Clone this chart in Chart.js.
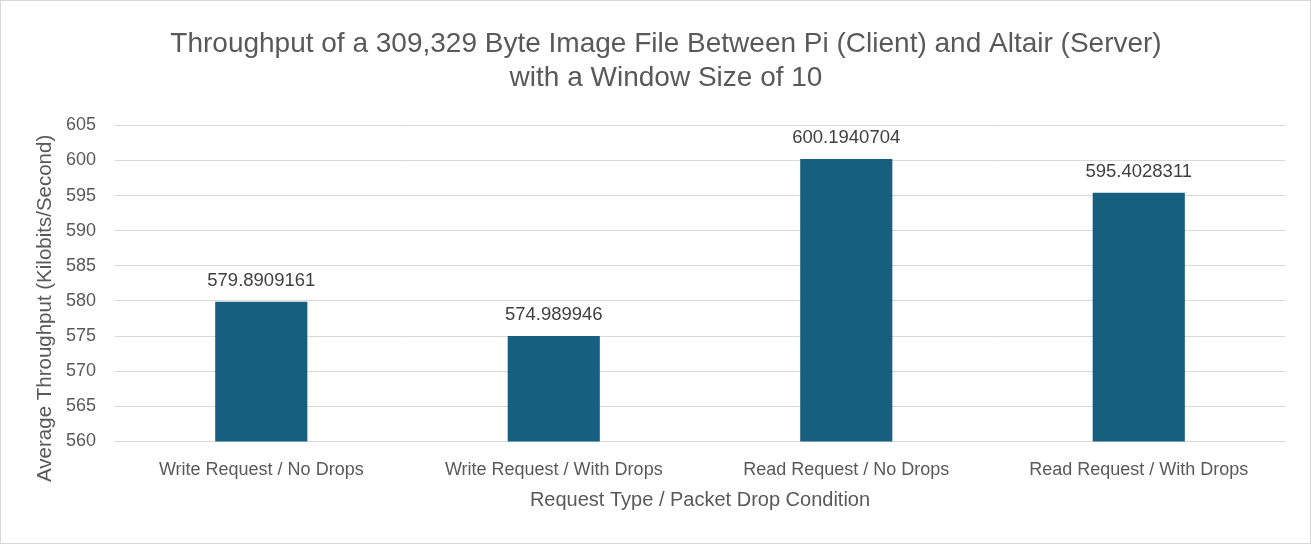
<!DOCTYPE html>
<html>
<head>
<meta charset="utf-8">
<script src="https://cdn.jsdelivr.net/npm/chart.js@4/dist/chart.umd.min.js"></script>
<style>
html,body{margin:0;padding:0;background:#fff;}
#wrap{position:absolute;left:0;top:0;width:1309px;height:542px;border:1px solid #d9d9d9;background:#fff;}
canvas{display:block;}
</style>
</head>
<body>
<div id="wrap"><canvas id="c" width="1309" height="542"></canvas></div>
<script>
const categories = ["Write Request / No Drops", "Write Request / With Drops", "Read Request / No Drops", "Read Request / With Drops"];
const throughput = [579.8909161, 574.989946, 600.1940704, 595.4028311];
const valueLabels = ["579.8909161", "574.989946", "600.1940704", "595.4028311"];
const titleLines = ["Throughput of a 309,329 Byte Image File Between Pi (Client) and Altair (Server)", "with a Window Size of 10"];
const yTitle = "Average Throughput (Kilobits/Second)";
const xTitle = "Request Type / Packet Drop Condition";

const FONT = "'Liberation Sans', Arial, sans-serif";

const labelPlugin = {
  id: 'valueLabels',
  afterDatasetsDraw(chart) {
    const ctx = chart.ctx;
    const meta = chart.getDatasetMeta(0);
    ctx.save();
    ctx.font = "18.5px " + FONT;
    ctx.fillStyle = "#404040";
    ctx.textAlign = "center";
    ctx.textBaseline = "middle";
    meta.data.forEach((el, i) => {
      ctx.fillText(valueLabels[i], el.x, el.y - 21);
    });
    ctx.restore();
  }
};

const yTitlePlugin = {
  id: 'yTitleCustom',
  afterDraw(chart) {
    const ctx = chart.ctx;
    const area = chart.chartArea;
    ctx.save();
    ctx.font = "20.5px " + FONT;
    ctx.fillStyle = "#595959";
    ctx.textAlign = "center";
    ctx.textBaseline = "middle";
    ctx.translate(44, (area.top + area.bottom) / 2 + 25);
    ctx.rotate(-Math.PI / 2);
    ctx.fillText(yTitle, 0, 0);
    ctx.restore();
  }
};

new Chart(document.getElementById('c'), {
  type: 'bar',
  data: {
    labels: categories,
    datasets: [{
      data: throughput,
      backgroundColor: '#175f7f',
      borderWidth: 0,
      barPercentage: 0.315,
      categoryPercentage: 1.0
    }]
  },
  options: {
    responsive: false,
    animation: false,
    layout: { padding: { left: 46, right: 25, top: 9, bottom: 31 } },
    plugins: {
      legend: { display: false },
      tooltip: { enabled: false },
      title: {
        display: true,
        text: titleLines,
        color: '#595959',
        font: { family: FONT, size: 28, weight: 'normal', lineHeight: 1.22 },
        padding: { top: 17, bottom: 30 }
      }
    },
    scales: {
      x: {
        grid: { display: false },
        border: { display: false },
        ticks: { color: '#595959', font: { family: FONT, size: 18 }, padding: 10, maxRotation: 0 },
        title: { display: true, text: xTitle, color: '#595959', font: { family: FONT, size: 20 }, padding: { top: -3, bottom: 0 } }
      },
      y: {
        min: 560, max: 605,
        grid: { color: '#d9d9d9', lineWidth: 1, drawTicks: false },
        border: { display: false },
        ticks: { stepSize: 5, color: '#595959', font: { family: FONT, size: 18 }, padding: 19 },
        title: { display: false }
      }
    }
  },
  plugins: [labelPlugin, yTitlePlugin]
});
</script>
</body>
</html>
